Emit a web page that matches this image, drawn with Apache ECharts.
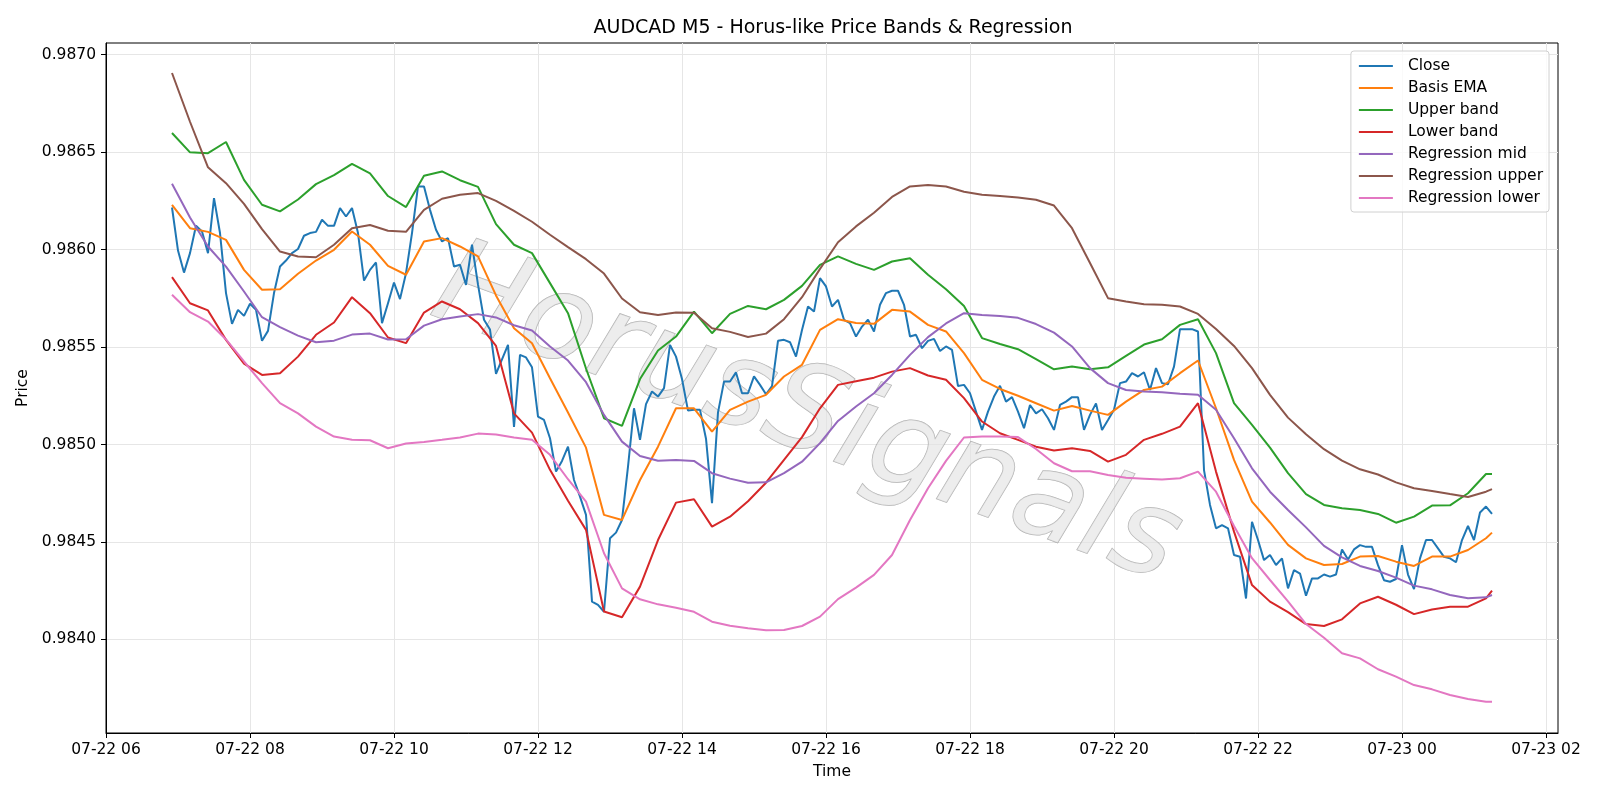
<!DOCTYPE html>
<html>
<head>
<meta charset="utf-8">
<script src="https://cdn.jsdelivr.net/npm/echarts@6/dist/echarts.min.js"></script>
<style>
  html, body { margin: 0; padding: 0; background: #fff; }
  #chart { width: 1600px; height: 800px; }
</style>
</head>
<body>
<div id="chart"></div>
<script>
// close prices, one value every 5 minutes from 07-22 06:55
var closeVals = [
  0.986216,0.985995,0.985882,0.985982,0.986122,0.986093,0.985982,0.986264,0.986085,0.985777,
  0.985619,0.985691,0.985660,0.985722,0.985691,0.985532,0.985583,0.985777,0.985913,0.985944,
  0.985982,0.986003,0.986071,0.986085,0.986091,0.986153,0.986122,0.986122,0.986213,0.986170,
  0.986213,0.986085,0.985841,0.985896,0.985934,0.985623,0.985725,0.985831,0.985746,0.985879,
  0.986085,0.986324,0.986324,0.986204,0.986102,0.986042,0.986059,0.985913,0.985922,0.985819,
  0.986025,0.985820,0.985640,0.985590,0.985362,0.985437,0.985511,0.985090,0.985460,0.985447,
  0.985396,0.985143,0.985126,0.985032,0.984861,0.984916,0.984989,0.984818,0.984733,0.984639,
  0.984194,0.984177,0.984142,0.984519,0.984548,0.984613,0.984887,0.985186,0.985024,0.985207,
  0.985272,0.985246,0.985289,0.985511,0.985451,0.985336,0.985174,0.985178,0.985178,0.985030,
  0.984699,0.985165,0.985323,0.985323,0.985370,0.985263,0.985263,0.985350,0.985306,0.985258,
  0.985300,0.985532,0.985537,0.985525,0.985451,0.985588,0.985708,0.985682,0.985854,0.985811,
  0.985708,0.985742,0.985640,0.985623,0.985554,0.985605,0.985640,0.985580,0.985717,0.985777,
  0.985789,0.985789,0.985717,0.985554,0.985563,0.985494,0.985532,0.985542,0.985480,0.985503,
  0.985486,0.985300,0.985306,0.985263,0.985169,0.985075,0.985169,0.985246,0.985301,0.985220,
  0.985243,0.985169,0.985084,0.985203,0.985160,0.985181,0.985135,0.985075,0.985203,0.985220,
  0.985243,0.985243,0.985075,0.985152,0.985211,0.985075,0.985126,0.985178,0.985315,0.985323,
  0.985366,0.985349,0.985371,0.985280,0.985392,0.985315,0.985309,0.985400,0.985592,0.985592,
  0.985592,0.985580,0.984869,0.984690,0.984570,0.984587,0.984570,0.984433,0.984424,0.984210,
  0.984604,0.984510,0.984407,0.984433,0.984382,0.984416,0.984262,0.984356,0.984338,0.984224,
  0.984313,0.984313,0.984333,0.984322,0.984333,0.984462,0.984410,0.984462,0.984484,0.984475,
  0.984475,0.984381,0.984304,0.984296,0.984310,0.984484,0.984333,0.984258,0.984416,0.984510,
  0.984510,0.984467,0.984424,0.984416,0.984396,0.984510,0.984582,0.984510,0.984651,0.984682,
  0.984644
];

// the other lines, read every 15 minutes (bar 0, 3, 6 ... 219, then the last bar 220)
var emaVals = [
  0.986230,0.986110,0.986091,0.986050,0.985896,0.985794,0.985797,0.985876,0.985944,0.985999,
  0.986093,0.986025,0.985917,0.985871,0.986042,0.986059,0.986016,0.985965,0.985765,0.985597,
  0.985520,0.985340,0.985164,0.984984,0.984639,0.984613,0.984818,0.984989,0.985186,0.985186,
  0.985066,0.985178,0.985220,0.985255,0.985349,0.985409,0.985588,0.985643,0.985623,0.985619,
  0.985691,0.985682,0.985614,0.985580,0.985469,0.985332,0.985285,0.985250,0.985212,0.985174,
  0.985198,0.985174,0.985152,0.985220,0.985280,0.985297,0.985366,0.985431,0.985186,0.984921,
  0.984707,0.984600,0.984485,0.984416,0.984382,0.984387,0.984425,0.984428,0.984399,0.984377,
  0.984425,0.984425,0.984459,0.984519,0.984548
];
var upperVals = [
  0.986598,0.986499,0.986495,0.986552,0.986358,0.986230,0.986196,0.986257,0.986336,0.986382,
  0.986440,0.986391,0.986275,0.986218,0.986379,0.986401,0.986356,0.986322,0.986131,0.986025,
  0.985982,0.985828,0.985674,0.985390,0.985135,0.985096,0.985336,0.985482,0.985554,0.985682,
  0.985571,0.985670,0.985711,0.985694,0.985742,0.985814,0.985922,0.985965,0.985927,0.985896,
  0.985939,0.985956,0.985871,0.985797,0.985711,0.985546,0.985516,0.985489,0.985438,0.985386,
  0.985400,0.985386,0.985396,0.985455,0.985513,0.985540,0.985614,0.985643,0.985469,0.985212,
  0.985101,0.984984,0.984853,0.984746,0.984690,0.984673,0.984664,0.984644,0.984599,0.984630,
  0.984687,0.984688,0.984750,0.984849,0.984849
];
var lowerVals = [
  0.985859,0.985725,0.985688,0.985537,0.985415,0.985357,0.985366,0.985451,0.985563,0.985626,
  0.985756,0.985674,0.985549,0.985520,0.985677,0.985734,0.985694,0.985623,0.985506,0.985160,
  0.985061,0.984870,0.984712,0.984562,0.984143,0.984114,0.984271,0.984510,0.984702,0.984719,
  0.984579,0.984630,0.984709,0.984804,0.984921,0.985038,0.985186,0.985306,0.985325,0.985343,
  0.985374,0.985392,0.985354,0.985332,0.985238,0.985118,0.985058,0.985024,0.984989,0.984969,
  0.984981,0.984967,0.984912,0.984947,0.985024,0.985055,0.985092,0.985212,0.984861,0.984553,
  0.984279,0.984194,0.984140,0.984079,0.984069,0.984103,0.984185,0.984219,0.984178,0.984130,
  0.984154,0.984168,0.984168,0.984211,0.984250
];
var regMidVals = [
  0.986338,0.986165,0.986016,0.985913,0.985785,0.985653,0.985602,0.985559,0.985525,0.985533,
  0.985564,0.985569,0.985539,0.985540,0.985610,0.985643,0.985657,0.985669,0.985652,0.985612,
  0.985585,0.985503,0.985431,0.985320,0.985152,0.985015,0.984941,0.984917,0.984921,0.984916,
  0.984853,0.984825,0.984804,0.984806,0.984853,0.984912,0.985007,0.985121,0.985195,0.985263,
  0.985357,0.985460,0.985551,0.985621,0.985674,0.985664,0.985660,0.985650,0.985618,0.985574,
  0.985503,0.985392,0.985315,0.985280,0.985272,0.985268,0.985261,0.985255,0.985178,0.985032,
  0.984878,0.984758,0.984664,0.984575,0.984480,0.984421,0.984377,0.984351,0.984317,0.984276,
  0.984257,0.984228,0.984211,0.984216,0.984228
];
var regUpperVals = [
  0.986906,0.986656,0.986422,0.986341,0.986235,0.986105,0.985990,0.985965,0.985961,0.986025,
  0.986110,0.986126,0.986097,0.986091,0.986204,0.986261,0.986281,0.986290,0.986250,0.986199,
  0.986143,0.986076,0.986013,0.985951,0.985877,0.985749,0.985679,0.985664,0.985677,0.985676,
  0.985597,0.985578,0.985552,0.985569,0.985643,0.985756,0.985901,0.986038,0.986119,0.986189,
  0.986270,0.986324,0.986331,0.986324,0.986297,0.986281,0.986275,0.986267,0.986256,0.986226,
  0.986110,0.985931,0.985751,0.985734,0.985720,0.985717,0.985708,0.985670,0.985593,0.985506,
  0.985392,0.985255,0.985138,0.985053,0.984976,0.984917,0.984873,0.984846,0.984806,0.984776,
  0.984762,0.984746,0.984731,0.984758,0.984771
];
var regLowerVals = [
  0.985768,0.985679,0.985631,0.985539,0.985426,0.985315,0.985212,0.985160,0.985092,0.985041,
  0.985025,0.985022,0.984981,0.985005,0.985013,0.985024,0.985036,0.985056,0.985051,0.985036,
  0.985024,0.984947,0.984822,0.984707,0.984442,0.984262,0.984206,0.984180,0.984163,0.984142,
  0.984091,0.984070,0.984057,0.984047,0.984048,0.984069,0.984117,0.984207,0.984266,0.984331,
  0.984433,0.984613,0.984776,0.984916,0.985036,0.985041,0.985041,0.985038,0.984977,0.984904,
  0.984863,0.984863,0.984844,0.984830,0.984825,0.984820,0.984827,0.984861,0.984758,0.984582,
  0.984417,0.984305,0.984195,0.984079,0.984009,0.983929,0.983903,0.983847,0.983809,0.983766,
  0.983744,0.983715,0.983694,0.983680,0.983680
];

var yTicks = [0.9840, 0.9845, 0.9850, 0.9855, 0.9860, 0.9865, 0.9870];
// x ticks: every two hours from 07-22 06 to 07-23 02
var xTickHours = [6, 8, 10, 12, 14, 16, 18, 20, 22, 24, 26];
var seriesNames = ['Close', 'Basis EMA', 'Upper band', 'Lower band',
                   'Regression mid', 'Regression upper', 'Regression lower'];
var colors = ['#1f77b4', '#ff7f0e', '#2ca02c', '#d62728', '#9467bd', '#8c564b', '#e377c2'];

var t0 = new Date(2024, 6, 22, 6, 55).getTime();
var bar = 5 * 60 * 1000;
var closeTimes = closeVals.map(function (v, i) { return t0 + i * bar; });
var bandIdx = [];
for (var k = 0; k <= 219; k += 3) bandIdx.push(k);
bandIdx.push(220);
var bandTimes = bandIdx.map(function (i) { return t0 + i * bar; });
var xTicks = xTickHours.map(function (h) { return new Date(2024, 6, 22, h, 0).getTime(); });

function pairs(times, vals) {
    return vals.map(function (v, i) { return [times[i], v]; });
}

var lineData = [
    pairs(closeTimes, closeVals),
    pairs(bandTimes, emaVals),
    pairs(bandTimes, upperVals),
    pairs(bandTimes, lowerVals),
    pairs(bandTimes, regMidVals),
    pairs(bandTimes, regUpperVals),
    pairs(bandTimes, regLowerVals)
];

function two(n) { return (n < 10 ? '0' : '') + n; }
function timeLabel(v) {
    var d = new Date(v);
    return two(d.getMonth() + 1) + '-' + two(d.getDate()) + ' ' + two(d.getHours());
}

var font = '"DejaVu Sans", sans-serif';
var myChart = echarts.init(document.getElementById('chart'));

var option = {
    animation: false,
    backgroundColor: '#fff',
    title: {
        text: 'AUDCAD M5 - Horus-like Price Bands & Regression',
        left: 828,
        textAlign: 'center',
        top: 14,
        textStyle: { fontFamily: font, fontSize: 19, fontWeight: 'normal', color: '#000' }
    },
    legend: {
        data: seriesNames,
        orient: 'vertical',
        right: 51,
        top: 51,
        itemWidth: 34,
        itemHeight: 14,
        itemGap: 4,
        padding: [6, 6, 5, 7],
        borderColor: '#d0d0d0',
        borderWidth: 1,
        borderRadius: 3,
        backgroundColor: 'rgba(255,255,255,0.8)',
        itemStyle: { opacity: 0 },
        textStyle: { fontFamily: font, fontSize: 15.5, lineHeight: 18, color: '#000', padding: [0, 0, 0, 10] }
    },
    grid: {
        left: 106, right: 42, top: 43, bottom: 67,
        show: true, borderColor: '#000', borderWidth: 1, backgroundColor: 'transparent'
    },
    graphic: [{
        type: 'text',
        x: 806,
        y: 418,
        rotation: -20 * Math.PI / 180,
        z: 1,
        style: {
            text: 'HorusSignals',
            font: 'italic 120px ' + font,
            textAlign: 'center',
            textVerticalAlign: 'middle',
            fill: 'rgba(228,228,228,0.65)',
            stroke: 'rgba(140,140,140,0.7)',
            lineWidth: 1,
            shadowColor: 'rgba(0,0,0,0.4)',
            shadowBlur: 2,
            shadowOffsetX: 3,
            shadowOffsetY: 3
        }
    }],
    xAxis: {
        type: 'value',
        min: new Date(2024, 6, 22, 6, 0).getTime(),
        max: new Date(2024, 6, 23, 2, 10).getTime(),
        name: 'Time',
        nameLocation: 'middle',
        nameGap: 31,
        nameTextStyle: { fontFamily: font, fontSize: 15.5, color: '#000' },
        axisLine: { show: true, lineStyle: { color: '#000', width: 1 } },
        axisTick: { show: true, length: 5, lineStyle: { color: '#000' }, customValues: xTicks },
        axisLabel: {
            customValues: xTicks,
            formatter: timeLabel,
            fontFamily: font, fontSize: 15.5, color: '#000', margin: 9
        },
        splitLine: { show: true, lineStyle: { color: '#e6e6e6', width: 1 } }
    },
    yAxis: {
        type: 'value',
        min: 0.98352,
        max: 0.98706,
        scale: true,
        name: 'Price',
        nameLocation: 'middle',
        nameGap: 64,
        nameTextStyle: { fontFamily: font, fontSize: 15.5, color: '#000' },
        axisLine: { show: true, lineStyle: { color: '#000', width: 1 } },
        axisTick: { show: true, length: 5, lineStyle: { color: '#000' }, customValues: yTicks },
        axisLabel: {
            customValues: yTicks,
            formatter: function (v) { return v.toFixed(4); },
            fontFamily: font, fontSize: 15.5, color: '#000', margin: 10
        },
        splitLine: { show: true, lineStyle: { color: '#e6e6e6', width: 1 } }
    },
    series: seriesNames.map(function (name, i) {
        return {
            name: name,
            type: 'line',
            data: lineData[i],
            symbol: 'none',
            z: 3,
            color: colors[i],
            lineStyle: { width: 2, color: colors[i] }
        };
    })
};

myChart.setOption(option);
</script>
</body>
</html>
